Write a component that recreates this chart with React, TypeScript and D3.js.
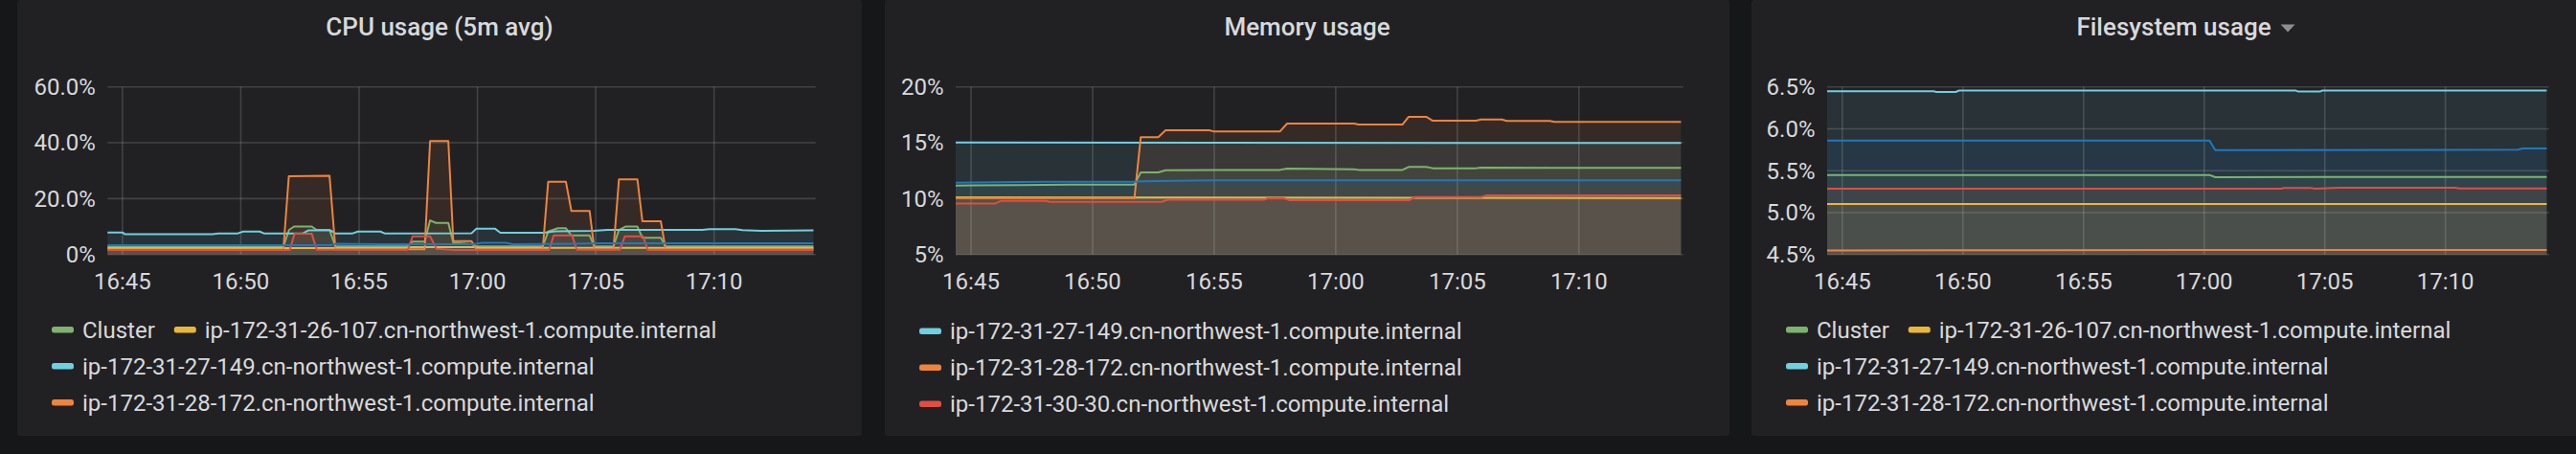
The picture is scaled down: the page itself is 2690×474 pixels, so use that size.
import React from 'react';
import * as d3 from 'd3';

type Pt = [number, number];

// ---------- names & colours ----------
const NAME_CLUSTER = 'Cluster';
const NAME_107 = 'ip-172-31-26-107.cn-northwest-1.compute.internal';
const NAME_149 = 'ip-172-31-27-149.cn-northwest-1.compute.internal';
const NAME_172 = 'ip-172-31-28-172.cn-northwest-1.compute.internal';
const NAME_30 = 'ip-172-31-30-30.cn-northwest-1.compute.internal';
const NAME_6 = 'node-6';

const seriesOrder = [NAME_CLUSTER, NAME_107, NAME_149, NAME_172, NAME_30, NAME_6];
const seriesColors: Record<string, string> = {
  [NAME_CLUSTER]: '#7EB26D',
  [NAME_107]: '#EAB839',
  [NAME_149]: '#6ED0E0',
  [NAME_172]: '#EF843C',
  [NAME_30]: '#E24D42',
  [NAME_6]: '#1F78C1',
};

// ---------- time axis (minutes after 16:45) ----------
const timeStart = -0.63;
const timeEnd = 29.29;
const BASE = new Date(2019, 0, 1, 16, 45, 0).getTime();
const toDate = (m: number) => new Date(BASE + m * 60000);

// ---------- CPU usage (%) : [minutes after 16:45, value] ----------
const cpuCluster: Pt[] = [[-0.7, 2.9], [6.8, 2.9], [7.04, 8.8], [7.25, 10.0], [8.0, 10.0], [8.2, 8.8], [8.75, 8.8], [9.0, 2.9], [12.06, 3.0], [12.26, 4.6], [12.77, 4.6], [13.0, 12.2], [13.25, 11.3], [13.77, 11.3], [13.98, 4.2], [14.75, 3.7], [14.95, 2.9], [17.76, 2.9], [17.99, 8.2], [18.4, 9.4], [18.74, 9.4], [18.97, 6.8], [19.74, 6.8], [19.94, 2.9], [20.75, 2.9], [20.98, 8.8], [21.25, 10.0], [21.76, 10.0], [21.97, 6.0], [22.75, 6.0], [22.95, 2.9], [29.2, 2.9]];
const cpu107: Pt[] = [[-0.7, 2.3], [12.0, 2.3], [12.2, 2.6], [14.9, 2.6], [15.1, 2.4], [29.2, 2.4]];
const cpu149: Pt[] = [[-0.7, 7.9], [0.0, 7.9], [0.1, 7.3], [3.8, 7.3], [4.05, 7.5], [4.85, 7.5], [5.1, 8.2], [5.8, 8.2], [6.0, 7.5], [7.6, 7.5], [7.85, 8.6], [8.8, 8.6], [9.0, 7.5], [9.7, 7.5], [9.95, 8.2], [10.9, 8.2], [11.1, 7.5], [14.75, 7.6], [14.95, 9.2], [15.75, 9.2], [15.97, 7.8], [17.8, 7.8], [18.3, 8.3], [19.9, 8.5], [20.5, 8.8], [24.5, 8.8], [24.8, 9.1], [25.9, 9.1], [26.2, 8.7], [27.0, 8.5], [29.2, 8.6]];
const cpu172: Pt[] = [[-0.7, 1.8], [6.8, 1.8], [7.03, 28.0], [8.75, 28.2], [9.0, 1.9], [12.77, 1.9], [13.0, 40.6], [13.77, 40.6], [13.98, 4.8], [14.75, 4.8], [14.95, 1.9], [17.76, 1.9], [17.99, 26.0], [18.74, 26.0], [18.97, 15.6], [19.74, 15.6], [19.94, 1.9], [20.75, 1.9], [20.98, 26.9], [21.76, 26.9], [21.97, 11.9], [22.75, 11.9], [22.95, 1.9], [29.2, 1.9]];
const cpu30: Pt[] = [[-0.7, 1.6], [7.07, 1.6], [7.27, 7.4], [8.0, 7.4], [8.21, 1.7], [12.06, 1.7], [12.26, 6.5], [13.0, 6.5], [13.27, 2.0], [14.0, 1.6], [18.03, 1.6], [18.22, 6.8], [19.0, 6.8], [19.2, 1.7], [21.02, 1.7], [21.23, 6.5], [22.0, 6.5], [22.2, 1.6], [29.2, 1.6]];
const cpu6: Pt[] = [[-0.7, 3.3], [8.8, 3.3], [9.0, 3.8], [11.0, 3.7], [14.8, 3.7], [15.2, 4.2], [16.2, 4.2], [16.5, 3.7], [19.0, 3.8], [20.0, 4.0], [29.2, 4.0]];

// ---------- Memory usage (%) ----------
const memCluster: Pt[] = [[-0.7, 11.17], [2.0, 11.22], [4.0, 11.26], [6.72, 11.26], [6.98, 12.35], [7.7, 12.35], [8.0, 12.54], [12.7, 12.57], [13.0, 12.69], [15.76, 12.63], [15.94, 12.57], [17.74, 12.57], [18.0, 12.83], [18.72, 12.83], [18.99, 12.72], [20.77, 12.72], [20.97, 12.78], [24.0, 12.75], [29.2, 12.75]];
const mem107: Pt[] = [[-0.7, 10.12], [10.0, 10.1], [29.2, 10.06]];
const mem149: Pt[] = [[-0.7, 15.03], [10.0, 15.0], [29.2, 14.98]];
const mem172: Pt[] = [[-0.7, 10.05], [6.72, 10.05], [6.98, 15.5], [7.7, 15.5], [8.0, 16.11], [9.8, 16.11], [10.0, 16.0], [12.7, 16.0], [13.0, 16.72], [15.76, 16.72], [15.94, 16.63], [17.74, 16.63], [18.0, 17.32], [18.72, 17.32], [18.99, 16.97], [20.77, 16.97], [20.97, 17.08], [21.83, 17.08], [22.03, 16.95], [23.8, 16.95], [24.0, 16.86], [29.2, 16.86]];
const mem30: Pt[] = [[-0.7, 9.57], [1.0, 9.57], [1.24, 9.8], [3.1, 9.8], [3.22, 9.71], [7.84, 9.71], [8.1, 9.9], [12.06, 9.9], [12.2, 10.04], [12.85, 10.04], [13.1, 9.86], [18.0, 9.86], [18.27, 10.14], [21.0, 10.14], [21.2, 10.29], [29.2, 10.29]];
const mem6: Pt[] = [[-0.7, 11.43], [3.0, 11.5], [6.7, 11.5], [7.0, 11.55], [10.0, 11.63], [29.2, 11.63]];

// ---------- Filesystem usage (%) ----------
const fsCluster: Pt[] = [[-0.7, 5.449], [15.22, 5.449], [15.46, 5.422], [20.0, 5.425], [29.2, 5.425]];
const fs107: Pt[] = [[-0.7, 5.102], [29.2, 5.102]];
const fs149: Pt[] = [[-0.7, 6.449], [3.78, 6.449], [3.9, 6.44], [4.7, 6.44], [4.84, 6.456], [18.78, 6.458], [18.9, 6.444], [19.8, 6.444], [19.9, 6.458], [29.2, 6.458]];
const fs172: Pt[] = [[-0.7, 4.548], [8.0, 4.552], [29.2, 4.553]];
const fs30: Pt[] = [[-0.7, 5.285], [18.2, 5.285], [18.3, 5.295], [19.4, 5.295], [19.6, 5.285], [20.6, 5.297], [25.4, 5.297], [25.6, 5.288], [29.2, 5.288]];
const fs6: Pt[] = [[-0.7, 5.86], [15.22, 5.86], [15.46, 5.746], [28.0, 5.75], [28.2, 5.765], [29.2, 5.765]];

// ---------- axis ticks ----------
const cpuTicks = [0, 20, 40, 60];
const cpuTickLabels = ['0%', '20.0%', '40.0%', '60.0%'];
const memTicks = [5, 10, 15, 20];
const memTickLabels = ['5%', '10%', '15%', '20%'];
const fsTicks = [4.5, 5.0, 5.5, 6.0, 6.5];
const fsTickLabels = ['4.5%', '5.0%', '5.5%', '6.0%', '6.5%'];

// ---------- titles & legends ----------
const titles = ['CPU usage (5m avg)', 'Memory usage', 'Filesystem usage'];
const cpuLegendRows = [[NAME_CLUSTER, NAME_107], [NAME_149], [NAME_172]];
const memLegendRows = [[NAME_149], [NAME_172], [NAME_30]];
const fsLegendRows = [[NAME_CLUSTER, NAME_107], [NAME_149], [NAME_172]];

// ---------- layout ----------
const W = 2690, H = 474;
const BG = '#161719';
const PANEL_BG = '#212124';
const TEXT = '#d8d9da';
const FONT = 'Roboto, "Noto Sans", sans-serif';
const PLOT_TOP = 90.7;
const PLOT_BOTTOM = 265.7;

const panels = [
  { left: 18, plotL: 112.3, plotR: 851.7, title: titles[0], dropdown: false, yMin: 0, yMax: 60, ticks: cpuTicks, labels: cpuTickLabels, legend: cpuLegendRows, legendShift: 0,
    data: [cpuCluster, cpu107, cpu149, cpu172, cpu30, cpu6] },
  { left: 924, plotL: 998, plotR: 1757.7, title: titles[1], dropdown: false, yMin: 5, yMax: 20, ticks: memTicks, labels: memTickLabels, legend: memLegendRows, legendShift: 1.5,
    data: [memCluster, mem107, mem149, mem172, mem30, mem6] },
  { left: 1829, plotL: 1908, plotR: 2661.7, title: titles[2], dropdown: true, yMin: 4.5, yMax: 6.5, ticks: fsTicks, labels: fsTickLabels, legend: fsLegendRows, legendShift: 0,
    data: [fsCluster, fs107, fs149, fs172, fs30, fs6] },
];

let _ctx: CanvasRenderingContext2D | null = null;
function textWidth(s: string, font: string): number {
  if (!_ctx) {
    const c = document.createElement('canvas');
    _ctx = c.getContext('2d');
  }
  if (_ctx) {
    _ctx.font = font;
    return _ctx.measureText(s).width;
  }
  return s.length * 11;
}

function Panel({ p, idx }: { p: typeof panels[number]; idx: number }) {
  const x = d3.scaleTime().domain([toDate(timeStart), toDate(timeEnd)]).range([p.plotL, p.plotR]);
  const y = d3.scaleLinear().domain([p.yMin, p.yMax]).range([PLOT_BOTTOM, PLOT_TOP]);
  const line = d3.line<Pt>().x(d => x(toDate(d[0]))).y(d => y(d[1]));
  const area = d3.area<Pt>().x(d => x(toDate(d[0]))).y0(y(Math.min(0, p.yMin))).y1(d => y(d[1]));
  const xTicks = x.ticks(d3.timeMinute.every(5) as any);
  const fmt = d3.timeFormat('%H:%M');
  const clipId = `clip-${idx}`;
  const panelW = 882;
  const cx = p.left + panelW / 2;
  const titleFont = `500 26px Roboto`;
  const titleW = textWidth(p.title, titleFont);
  const grid = 'rgba(200,200,200,0.2)';

  const legendEls: React.ReactNode[] = [];
  p.legend.forEach((row, r) => {
    const cy = 344.3 + r * 38 + p.legendShift;
    let sx = p.left + 36;
    row.forEach(name => {
      legendEls.push(
        <g key={`${r}-${name}`}>
          <rect x={sx} y={cy - 3.25} width={23} height={6.5} rx={2.5} fill={seriesColors[name]} />
          <text x={sx + 32} y={cy + 8.5} fontSize={24} fill={TEXT} fontFamily={FONT}>{name}</text>
        </g>
      );
      sx = sx + 32 + textWidth(name, '24px Roboto') + 20;
    });
  });

  return (
    <g>
      <rect x={p.left} y={0} width={panelW} height={455} rx={3} fill={PANEL_BG} />
      <text x={cx} y={37.3} textAnchor="middle" fontSize={26} fontWeight={500} fill={TEXT} fontFamily={FONT}>{p.title}</text>
      {p.dropdown && (
        <path d={`M${cx + titleW / 2 + 10},25.5 L${cx + titleW / 2 + 25},25.5 L${cx + titleW / 2 + 17.5},33.5 Z`} fill="#8e8e90" />
      )}
      <defs>
        <clipPath id={clipId}>
          <rect x={p.plotL} y={PLOT_TOP - 2} width={p.plotR - p.plotL} height={PLOT_BOTTOM - PLOT_TOP + 2} />
        </clipPath>
      </defs>
      <g clipPath={`url(#${clipId})`}>
        {p.data.map((d, i) => (
          <path key={i} d={area(d) || ''} fill={seriesColors[seriesOrder[i]]} fillOpacity={0.1} />
        ))}
      </g>
      {p.ticks.map(t => (
        <line key={t} x1={p.plotL} x2={p.plotR} y1={y(t)} y2={y(t)} stroke={grid} strokeWidth={1.6} />
      ))}
      {xTicks.map(t => (
        <line key={+t} x1={x(t)} x2={x(t)} y1={PLOT_TOP} y2={PLOT_BOTTOM} stroke={grid} strokeWidth={1.6} />
      ))}
      <g clipPath={`url(#${clipId})`}>
        {p.data.map((d, i) => (
          <path key={i} d={line(d) || ''} fill="none" stroke={seriesColors[seriesOrder[i]]} strokeWidth={2} strokeLinejoin="round" />
        ))}
      </g>
      {p.ticks.map((t, i) => (
        <text key={t} x={p.plotL - 12.5} y={y(t) + 8.4} textAnchor="end" fontSize={24} fill={TEXT} fontFamily={FONT}>{p.labels[i]}</text>
      ))}
      {xTicks.map(t => (
        <text key={+t} x={x(t)} y={302.3} textAnchor="middle" fontSize={24} fill={TEXT} fontFamily={FONT}>{fmt(t)}</text>
      ))}
      {legendEls}
    </g>
  );
}

export default function App() {
  return (
    <svg width={W} height={H} style={{ position: 'absolute', left: 0, top: 0, display: 'block' }}>
      <rect x={0} y={0} width={W} height={H} fill={BG} />
      {panels.map((p, i) => <Panel key={i} p={p} idx={i} />)}
    </svg>
  );
}
